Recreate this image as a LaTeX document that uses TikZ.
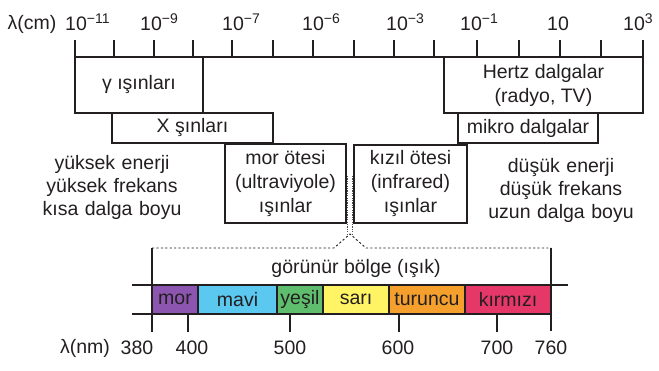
\documentclass[tikz,border=0pt]{standalone}
\usepackage{fontspec}
\setmainfont{Liberation Sans}
\definecolor{ink}{HTML}{231F20}
\definecolor{cmor}{HTML}{8C55B0}
\definecolor{cmavi}{HTML}{5BC8F0}
\definecolor{cyesil}{HTML}{5FBE6E}
\definecolor{csari}{HTML}{FFF564}
\definecolor{cturuncu}{HTML}{F5A02D}
\definecolor{ckirmizi}{HTML}{E63769}
\newcommand\pw[1]{\raisebox{7.5pt}{\fontsize{14}{14}\selectfont #1}}
\begin{document}
\begin{tikzpicture}[x=1pt,y=-1pt,
  every node/.style={font=\fontsize{19.5}{24}\selectfont, text=ink, inner sep=0pt},
  band/.style={draw=ink, line width=1.1pt, align=center},
  ln/.style={draw=ink, line width=1.1pt},
  lbl/.style={align=center},
  seg/.style={draw=ink, line width=1.1pt, minimum height=29pt, anchor=west, outer sep=0pt}]
\useasboundingbox (0,0) rectangle (659,371);
% top axis
\node[lbl] (lcm) at (32,24) {λ(cm)};
\node[lbl, anchor=base west] (t1) at (65,31) {10\pw{−11}};
\node[lbl, anchor=base west] (t2) at (140,31) {10\pw{−9}};
\node[lbl, anchor=base west] (t3) at (222,31) {10\pw{−7}};
\node[lbl, anchor=base west] (t4) at (302,31) {10\pw{−6}};
\node[lbl, anchor=base west] (t5) at (386,31) {10\pw{−3}};
\node[lbl, anchor=base west] (t6) at (460,31) {10\pw{−1}};
\node[lbl, anchor=base west] (t7) at (547,31) {10};
\node[lbl, anchor=base west] (t8) at (623,31) {10\pw{3}};
\draw[ln] (75,57) -- (643,57);
\foreach \x in {75,114,154,193,232,273,313,354,394,434,477,519,560,601,643}
  \draw[ln] (\x,40) -- (\x,57);
% bands
\node[band, minimum width=128pt, minimum height=56pt] (gamma) at (139,85) {γ ışınları};
\node[band, minimum width=161pt, minimum height=30pt] (xray) at (192.5,128) {X şınları};
\node[band, minimum width=199pt, minimum height=56pt] (hertz) at (543.5,85) {Hertz dalgalar\\(radyo, TV)};
\node[band, minimum width=140pt, minimum height=30pt] (mikro) at (528,128) {mikro dalgalar};
\node[band, minimum width=121pt, minimum height=79pt] (uv) at (285.5,183.5) {mor ötesi\\(ultraviyole)\\ışınlar};
\node[band, minimum width=113pt, minimum height=78pt] (ir) at (410.5,184) {kızıl ötesi\\(infrared)\\ışınlar};
% side texts
\node[lbl, text width=170pt] (high) at (112,187) {yüksek enerji\\[-1pt]yüksek frekans\\[-1pt]kısa dalga boyu};
\node[lbl, text width=170pt] (low) at (561,190) {düşük enerji\\[-1pt]düşük frekans\\[-1pt]uzun dalga boyu};
% zoom connector
\coordinate (apex) at (350,234);
\coordinate (vl) at (152,248);
\coordinate (vr) at (551,248);
\draw[ink!80, line width=1.2pt, dash pattern=on 1.2pt off 1.2pt] (347.5,176) -- (347.5,234);
\draw[ink!80, line width=1.2pt, dash pattern=on 1.2pt off 1.2pt] (352.5,176) -- (352.5,234);
\draw[ink, line width=0.9pt, dash pattern=on 2.2pt off 2.2pt] (vl) -- (334,248) -- (apex) -- (366,248) -- (vr);
% visible spectrum
\node[lbl] (vis) at (356,269) {görünür bölge (ışık)};
\node[seg, fill=cmor, minimum width=46pt] (mor) at (152,299.5) {mor};
\node[seg, fill=cmavi, minimum width=79pt] (mavi) at (mor.east) {mavi};
\node[seg, fill=cyesil, minimum width=46pt] (yesil) at (mavi.east) {yeşil};
\node[seg, fill=csari, minimum width=66pt] (sari) at (yesil.east) {sarı};
\node[seg, fill=cturuncu, minimum width=76pt] (turuncu) at (sari.east) {turuncu};
\node[seg, fill=ckirmizi, minimum width=86pt] (kirmizi) at (turuncu.east) {kırmızı};
\draw[ln] (132,285) -- (mor.north west);
\draw[ln] (132,314) -- (mor.south west);
\draw[ln] (kirmizi.north east) -- (568,285);
\draw[ln] (vl) -- (152,332);
\draw[ln] (vr) -- (551,331);
\foreach \x in {188,290,399,497}
  \draw[ln] (\x,314) -- (\x,332);
% bottom labels
\node[lbl] (lnm) at (85,348) {λ(nm)};
\node[lbl] (n380) at (137,348) {380};
\node[lbl] (n400) at (192,348) {400};
\node[lbl] (n500) at (290,348) {500};
\node[lbl] (n600) at (398,348) {600};
\node[lbl] (n700) at (497,348) {700};
\node[lbl] (n760) at (551,348) {760};
\end{tikzpicture}
\end{document}
